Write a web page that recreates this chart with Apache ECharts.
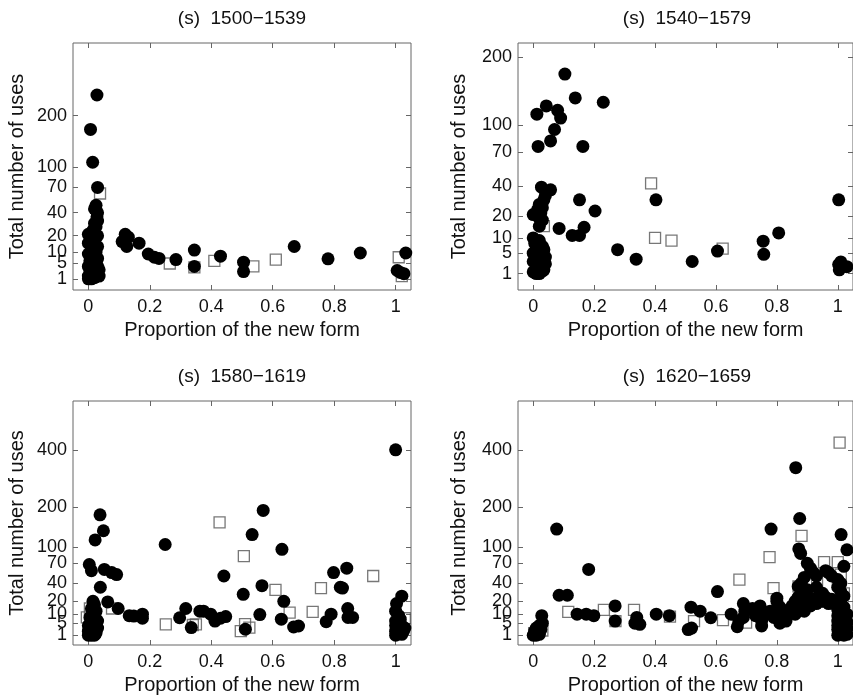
<!DOCTYPE html>
<html><head><meta charset="utf-8">
<script src="https://cdn.jsdelivr.net/npm/echarts@6/dist/echarts.min.js"></script>
<style>html,body{margin:0;padding:0;background:#fff}#c{width:853px;height:696px}</style>
</head><body><div id="c"></div>
<script>
// ---------- data ----------
const panelTitles = ['(s)  1500\u22121539', '(s)  1540\u22121579', '(s)  1580\u22121619', '(s)  1620\u22121659'];
const xTicks = [0, 0.2, 0.4, 0.6, 0.8, 1];
const yTicks1 = [1, 5, 10, 20, 40, 70, 100, 200];
const yTicks2 = [1, 5, 10, 20, 40, 70, 100, 200];
const yTicks3 = [1, 5, 10, 20, 40, 70, 100, 200, 400];
const yTicks4 = [1, 5, 10, 20, 40, 70, 100, 200, 400];
const xAxisName = 'Proportion of the new form';
const yAxisName = 'Total number of uses';

// [proportion of new form, total uses]
const circles1 = [[0.028,250],[0.007,170],[0.014,108],[0.03,70],
 [0.025,48],[0.02,44],[0.03,40],[0.028,36],[0.03,32],[0.02,30],[0.025,27],[0.015,24],[0,21],[0.01,20],[0.03,20],
 [0.02,17],[0,15],[0.015,14],[0.03,13],[0.01,11],[0.025,10],[0,9],[0.02,8],[0.03,7],[0.005,6],[0.015,5],[0.03,4],
 [0,4],[0.02,3],[0.01,2.5],[0.03,2],[0,1.5],[0.02,1.2],[0.01,1],[0.035,1.5],[0,1],[0.005,3],[0.025,5.5],[0.035,3],
 [0.12,21],[0.13,19],[0.11,16],[0.125,13],[0.165,15],[0.195,9],[0.215,7.5],[0.23,7],[0.285,6.5],[0.345,11],[0.345,4],
 [0.43,8],[0.505,5.5],[0.505,2.5],[0.67,13],[0.78,6.8],[0.885,9.5],[1.033,9.5],[1.005,2.8],[1.015,2.3],[1.027,2]];
const squares1 = [[0.038,62],[0.265,5],[0.345,3.7],[0.41,6],[0.537,4],[0.61,6.5],[1.01,7.5],[1.02,1.5],[0.005,2],[0.02,6]];

const circles2 = [[0.104,172],[0.138,136],[0.23,130],[0.043,125],[0.012,114],[0.08,119],[0.09,109],[0.07,95],[0.057,82],
 [0.016,76],[0.163,76],[0.027,39],[0.057,37],[0.04,33],[0.035,30],[0.02,27],[0.03,25],[0.015,24],[0.025,22],[0,21],
 [0.02,19],[0.03,18],[0.02,15],[0.152,30],[0.403,30],[1.003,30],[0.203,23],[0.085,14],[0.128,11],[0.152,11],[0.167,14.5],
 [0.277,6],[0.338,3.5],[0.522,3],[0.605,5.6],[0.755,8.8],[0.757,4.7],[0.806,12],[1.003,2.4],[1.01,2.9],[1.005,1.5],[1.03,2],
 [0,10],[0.005,8],[0.02,9],[0.03,7],[0.01,6],[0.035,6],[0,5],[0.02,5],[0.03,4],[0.01,3.5],[0.035,3],[0,3],[0.02,2.5],
 [0.03,2],[0.01,1.8],[0,1.2],[0.02,1],[0.03,1.3],[0.035,1.5],[0.01,1],[0.04,4],[0.04,2.5]];
const squares2 = [[0.387,42],[0.4,10],[0.454,9],[0.622,6.3],[0.035,15]];

const circles3 = [[1.0,400],[0.569,190],[0.038,178],[0.049,137],[0.533,128],[0.022,116],[0.25,106],[0.63,96],[0.003,68],
 [0.01,58],[0.052,60],[0.076,55],[0.092,52],[0.441,50],[0.798,55],[0.841,62],[0.039,35],[0.565,37],[0.82,35],[0.827,34],
 [0.504,27],[0.063,19.5],[0.636,20],[0.097,14],[0.317,14],[0.844,14],[1.003,18],[1.02,25],[0.133,9],[0.148,8.8],[0.176,10],
 [0.176,7.5],[0.363,12],[0.375,12],[0.398,10],[0.297,7.8],[0.412,6],[0.43,7.5],[0.447,8.5],[0.335,3.2],[0.511,2.6],
 [0.558,9.7],[0.628,7],[0.668,3.4],[0.684,3.8],[0.774,5.7],[0.79,10],[0.845,8],[0.86,8],
 [0.015,20],[0.02,17],[0.01,14],[0.025,12],[0.015,10],[0.02,8],[0.025,7],[0.01,6],[0.02,5],[0,4],[0.025,4],[0.01,3],
 [0.02,2.5],[0,2],[0.015,1.5],[0.025,1.5],[0,1],[0.01,1],[0.02,1],[0.03,3],[0.03,6],[0.005,8],
 [1,12],[1.01,9],[1.0,6],[1.015,5],[1.0,4],[1.02,3.5],[1.01,2.5],[1.0,2],[1.025,2],[1.01,1.5],[1.0,1],[1.02,1.2],[1.03,3],[1.015,7]];
const squares3 = [[0.427,158],[0.506,83],[0.927,50],[0.609,32],[0.757,34],[0.655,11],[0.73,11.5],[0.252,4.5],[0.34,4.2],
 [0.35,4.5],[0.51,4.6],[0.496,2],[0.524,3.2],[0.077,14],[-0.005,8],[1.03,7.5],[0.005,14]];

const circles4 = [[0.862,330],[0.875,168],[0.077,141],[0.781,141],[1.011,128],[0.872,97],[0.878,88],[1.03,95],[0.182,60],
 [0.9,70],[0.91,62],[0.92,55],[0.93,50],[0.96,58],[0.97,55],[0.98,50],[1.0,45],[1.02,65],[1.01,40],[0.89,48],[0.9,32],
 [0.93,35],[0.95,28],[0.605,30],[0.085,26],[0.112,26],[0.028,9],[0.269,16],[0.269,6],[0.144,10],[0.174,10],[0.199,9],
 [0.34,8],[0.334,5],[0.35,4.5],[0.404,10],[0.447,9],[0.518,15],[0.548,12],[0.583,7.8],[0.509,2.5],[0.52,3],[0.65,10],
 [0.67,3.5],[0.69,18],[0.7,14],[0.695,12],[0.69,8],[0.675,6],
 [0.72,14],[0.73,9],[0.74,12],[0.745,16],[0.75,6],[0.75,3.8],[0.76,10],[0.778,12],[0.79,8],[0.8,23],[0.8,20],[0.81,15],
 [0.81,5],[0.82,9],[0.83,11],[0.83,6],[0.84,13],[0.85,16],[0.86,10],[0.86,20],[0.87,14],[0.87,24],[0.88,18],[0.89,12],
 [0.89,28],[0.9,20],[0.91,16],[0.92,22],[0.93,18],[0.94,25],[0.95,20],[0.96,24],[0.97,18],[0.98,22],[0.87,36],[0.88,40],
 [1.0,35],[1.01,30],[1.02,25],[1,20],[1.01,17],[1.02,15],[1,13],[1.01,11],[1.03,10],[1,9],[1.02,8],[1.01,7],[1,6],
 [1.03,5.5],[1.02,5],[1,4],[1.01,3.5],[1.03,3],[1,2.5],[1.02,2],[1.01,1.5],[1,1],[1.03,1.2],[1.02,1],
 [0,1],[0.005,2],[0.01,3],[0.015,1.5],[0.02,4],[0.025,2.5],[0.03,5],[0.01,1],[0.02,1.2]];
const squares4 = [[1.006,430],[0.881,125],[0.776,81],[0.955,72],[1.0,72],[1.01,52],[0.677,45],[0.789,34],[0.871,36],
 [0.932,42],[0.96,20],[0.997,18],[1.02,28],[0.115,11.5],[0.232,13],[0.331,13],[0.449,8.5],[0.528,6],[0.623,6.5],
 [0.699,5.3],[0.03,2.2],[0.003,1.5],[0.27,6],[1.0,40]];

// ---------- layout ----------
const panels = [
  {title: panelTitles[0], circles: circles1, squares: squares1, yTicks: yTicks1, ymin: 0.1, ymax: 20, left: 73, top: 43, yGap: 46},
  {title: panelTitles[1], circles: circles2, squares: squares2, yTicks: yTicks2, ymin: 0, ymax: 15, left: 518, top: 43, yGap: 49},
  {title: panelTitles[2], circles: circles3, squares: squares3, yTicks: yTicks3, ymin: 0, ymax: 25, left: 73, top: 401, yGap: 46},
  {title: panelTitles[3], circles: circles4, squares: squares4, yTicks: yTicks4, ymin: 0, ymax: 25, left: 518, top: 401, yGap: 49}
];
const W = 338, H = 247;
const FONT = 'Liberation Sans, Arial, Helvetica, sans-serif';
const txt = '#111', axisCol = '#666';
const sq = v => Math.sqrt(v);

const grid = [], xAxis = [], yAxis = [], series = [], title = [];
panels.forEach((p, i) => {
  grid.push({left: p.left, top: p.top, width: W, height: H, show: true, borderColor: axisCol, borderWidth: 1, backgroundColor: '#fff'});
  title.push({text: p.title, left: p.left + W / 2 - 5, top: p.top - 39, textAlign: 'center',
    textStyle: {fontFamily: FONT, fontSize: 19, fontWeight: 'normal', color: txt}});
  const tickStyle = {show: true, inside: true, length: 5, lineStyle: {color: axisCol, width: 1}};
  const noLine = {show: false, onZero: false};
  const lab = {hideOverlap: false, fontFamily: FONT, fontSize: 18, color: txt};
  xAxis.push({gridIndex: i, type: 'value', min: -0.05, max: 1.05, position: 'bottom',
    name: xAxisName, nameLocation: 'middle', nameGap: 30,
    nameTextStyle: {fontFamily: FONT, fontSize: 20, color: txt},
    axisLine: noLine, splitLine: {show: false},
    axisTick: Object.assign({customValues: xTicks}, tickStyle),
    axisLabel: Object.assign({customValues: xTicks, margin: 8, formatter: v => String(+v.toFixed(1))}, lab)});
  xAxis.push({gridIndex: i, type: 'value', min: -0.05, max: 1.05, position: 'top',
    axisLine: noLine, splitLine: {show: false},
    axisTick: Object.assign({customValues: xTicks}, tickStyle), axisLabel: {show: false}});
  const yVals = p.yTicks.map(sq);
  // labels split over two left axes so that close labels (1, 5, 10) are all drawn, as in the reference
  const labA = p.yTicks.filter((t, k) => k % 2 === 0).map(sq);
  const labB = p.yTicks.filter((t, k) => k % 2 === 1).map(sq);
  const fmt = v => String(Math.round(v * v));
  yAxis.push({gridIndex: i, type: 'value', min: p.ymin, max: p.ymax, position: 'left',
    name: yAxisName, nameLocation: 'middle', nameGap: p.yGap,
    nameTextStyle: {fontFamily: FONT, fontSize: 20, color: txt},
    axisLine: noLine, splitLine: {show: false},
    axisTick: Object.assign({customValues: yVals}, tickStyle),
    axisLabel: Object.assign({customValues: labA, margin: 6, showMinLabel: true, showMaxLabel: true, formatter: fmt}, lab)});
  yAxis.push({gridIndex: i, type: 'value', min: p.ymin, max: p.ymax, position: 'left', offset: 0,
    axisLine: noLine, splitLine: {show: false}, axisTick: {show: false},
    axisLabel: Object.assign({customValues: labB, margin: 6, showMinLabel: true, showMaxLabel: true, formatter: fmt}, lab)});
  yAxis.push({gridIndex: i, type: 'value', min: p.ymin, max: p.ymax, position: 'right',
    axisLine: noLine, splitLine: {show: false},
    axisTick: Object.assign({customValues: yVals}, tickStyle), axisLabel: {show: false}});
  series.push({type: 'scatter', xAxisIndex: 2 * i, yAxisIndex: 3 * i, symbol: 'rect', symbolSize: 11, z: 2,
    data: p.squares.map(d => [d[0], sq(d[1])]),
    itemStyle: {color: 'rgba(255,255,255,0)', borderColor: '#555', borderWidth: 1.3}, silent: true});
  series.push({type: 'scatter', xAxisIndex: 2 * i, yAxisIndex: 3 * i, symbol: 'circle', symbolSize: 13, z: 3,
    data: p.circles.map(d => [d[0], sq(d[1])]),
    itemStyle: {color: '#000', opacity: 1}, silent: true});
});

const chart = echarts.init(document.getElementById('c'), null, {renderer: 'canvas'});
chart.setOption({animation: false, backgroundColor: '#fff', title, grid, xAxis, yAxis, series});
</script>
</body></html>
